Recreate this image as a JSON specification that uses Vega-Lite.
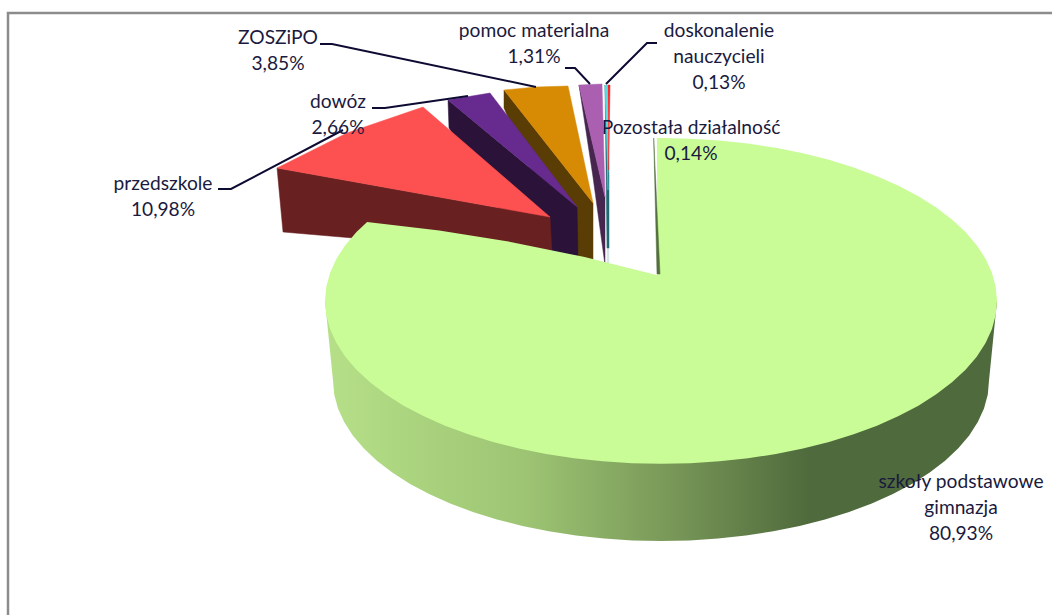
{"$schema":"https://vega.github.io/schema/vega-lite/v6.json","width":1052,"height":615,"padding":0,"autosize":"none","background":"white","config":{"view":{"stroke":null}},
"datasets":{
"big":[{"slice":"szkoły podstawowe gimnazja","share":80.93,"outline":{"type":"Polygon","coordinates":[[[-90,89.9],[-179.3,80],[180,80],[175,80],[170,80],[165,80],[160,80],[155,80],[150,80],[145,80],[140,80],[135,80],[130,80],[125,80],[120,80],[115,80],[110,80],[105,80],[100,80],[95,80],[90,80],[85,80],[80,80],[75,80],[70,80],[65,80],[60,80],[55,80],[50,80],[45,80],[40,80],[35,80],[30,80],[25,80],[20,80],[15,80],[10,80],[5,80],[0,80],[-5,80],[-10,80],[-15,80],[-20,80],[-25,80],[-30,80],[-35,80],[-40,80],[-45,80],[-50,80],[-55,80],[-60,80],[-65,80],[-70,80],[-75,80],[-80,80],[-85,80],[-90,80],[-95,80],[-100,80],[-105,80],[-110,80],[-115,80],[-119,80],[-90,89.9]]]}}],
"band":[{"seq":0,"x":325,"y":301},{"seq":1,"x":333,"y":380.5},{"seq":2,"x":334.2,"y":394.5},{"seq":3,"x":338,"y":408.4},{"seq":4,"x":344.2,"y":422},{"seq":5,"x":352.8,"y":435.4},{"seq":6,"x":363.7,"y":448.3},{"seq":7,"x":376.9,"y":460.8},{"seq":8,"x":392.3,"y":472.6},{"seq":9,"x":409.7,"y":483.7},{"seq":10,"x":429.1,"y":494},{"seq":11,"x":450.2,"y":503.4},{"seq":12,"x":472.9,"y":512},{"seq":13,"x":497,"y":519.5},{"seq":14,"x":522.4,"y":526},{"seq":15,"x":548.8,"y":531.3},{"seq":16,"x":576.1,"y":535.5},{"seq":17,"x":604.1,"y":538.6},{"seq":18,"x":632.4,"y":540.4},{"seq":19,"x":661,"y":541},{"seq":20,"x":689.6,"y":540.4},{"seq":21,"x":717.9,"y":538.6},{"seq":22,"x":745.9,"y":535.5},{"seq":23,"x":773.2,"y":531.3},{"seq":24,"x":799.6,"y":526},{"seq":25,"x":825,"y":519.5},{"seq":26,"x":849.1,"y":512},{"seq":27,"x":871.8,"y":503.4},{"seq":28,"x":892.9,"y":494},{"seq":29,"x":912.3,"y":483.7},{"seq":30,"x":929.7,"y":472.6},{"seq":31,"x":945.1,"y":460.8},{"seq":32,"x":958.3,"y":448.3},{"seq":33,"x":969.2,"y":435.4},{"seq":34,"x":977.8,"y":422},{"seq":35,"x":984,"y":408.4},{"seq":36,"x":987.8,"y":394.5},{"seq":37,"x":989,"y":380.5},{"seq":38,"x":997,"y":301}],
"faces":[
{"face":"pomoc wall","seq":1,"x":579,"y":85},{"face":"pomoc wall","seq":2,"x":605,"y":197},{"face":"pomoc wall","seq":3,"x":605,"y":265},{"face":"pomoc wall","seq":4,"x":593,"y":177},
{"face":"pomoc top","seq":1,"x":579,"y":85},{"face":"pomoc top","seq":2,"x":602,"y":84},{"face":"pomoc top","seq":3,"x":605,"y":197},
{"face":"rest wall","seq":1,"x":607,"y":245},{"face":"rest wall","seq":2,"x":609,"y":245},{"face":"rest wall","seq":3,"x":609,"y":265},{"face":"rest wall","seq":4,"x":607,"y":265},
{"face":"doskonalenie wall","seq":1,"x":605,"y":85},{"face":"doskonalenie wall","seq":2,"x":609,"y":175},{"face":"doskonalenie wall","seq":3,"x":609,"y":248},{"face":"doskonalenie wall","seq":4,"x":607,"y":248},
{"face":"doskonalenie top","seq":1,"x":605,"y":85},{"face":"doskonalenie top","seq":2,"x":607.5,"y":85},{"face":"doskonalenie top","seq":3,"x":608,"y":190},
{"face":"pozostala top","seq":1,"x":608,"y":85},{"face":"pozostala top","seq":2,"x":610,"y":85},{"face":"pozostala top","seq":3,"x":608.7,"y":170},
{"face":"zoszipo wall","seq":1,"x":504,"y":90},{"face":"zoszipo wall","seq":2,"x":593,"y":203},{"face":"zoszipo wall","seq":3,"x":593,"y":262},{"face":"zoszipo wall","seq":4,"x":570,"y":262},{"face":"zoszipo wall","seq":5,"x":504,"y":108},
{"face":"zoszipo top","seq":1,"x":504,"y":90},{"face":"zoszipo top","seq":2,"x":536,"y":87},{"face":"zoszipo top","seq":3,"x":568,"y":86},{"face":"zoszipo top","seq":4,"x":593,"y":203},
{"face":"dowoz wall","seq":1,"x":448,"y":100},{"face":"dowoz wall","seq":2,"x":577,"y":207},{"face":"dowoz wall","seq":3,"x":578,"y":259},{"face":"dowoz wall","seq":4,"x":530,"y":259},{"face":"dowoz wall","seq":5,"x":449,"y":128},
{"face":"dowoz top","seq":1,"x":448,"y":100},{"face":"dowoz top","seq":2,"x":490,"y":93},{"face":"dowoz top","seq":3,"x":577,"y":207},
{"face":"przedszkole wall","seq":1,"x":277,"y":168},{"face":"przedszkole wall","seq":2,"x":550,"y":217},{"face":"przedszkole wall","seq":3,"x":552,"y":255},{"face":"przedszkole wall","seq":4,"x":283,"y":232},
{"face":"przedszkole top","seq":1,"x":277,"y":168},{"face":"przedszkole top","seq":2,"x":347,"y":133},{"face":"przedszkole top","seq":3,"x":423,"y":107},{"face":"przedszkole top","seq":4,"x":550,"y":217}
],
"cut":[{"seq":1,"x":653.7,"y":138},{"seq":2,"x":660,"y":274},{"seq":3,"x":657,"y":274}],
"guides":[
{"guide":"frame","seq":1,"x":8,"y":615},{"guide":"frame","seq":2,"x":8,"y":13},{"guide":"frame","seq":3,"x":1052,"y":13},
{"guide":"przedszkole","seq":1,"x":218,"y":189},{"guide":"przedszkole","seq":2,"x":231,"y":189},{"guide":"przedszkole","seq":3,"x":343,"y":130},
{"guide":"dowoz","seq":1,"x":372,"y":108},{"guide":"dowoz","seq":2,"x":385,"y":108},{"guide":"dowoz","seq":3,"x":468,"y":96},
{"guide":"zoszipo","seq":1,"x":320,"y":44},{"guide":"zoszipo","seq":2,"x":332,"y":44},{"guide":"zoszipo","seq":3,"x":536,"y":87},
{"guide":"pomoc","seq":1,"x":565,"y":68},{"guide":"pomoc","seq":2,"x":575,"y":68},{"guide":"pomoc","seq":3,"x":590,"y":84},
{"guide":"doskonalenie","seq":1,"x":657,"y":43},{"guide":"doskonalenie","seq":2,"x":647,"y":43},{"guide":"doskonalenie","seq":3,"x":606,"y":84}
],
"labels":[
{"label":"szkoły podstawowe\ngimnazja\n80,93%","x":961,"y":482},
{"label":"przedszkole\n10,98%","x":163,"y":184},
{"label":"dowóz\n2,66%","x":338,"y":102},
{"label":"ZOSZiPO\n3,85%","x":278,"y":38},
{"label":"pomoc materialna\n1,31%","x":534,"y":31},
{"label":"doskonalenie\nnauczycieli\n0,13%","x":719,"y":31},
{"label":"Pozostała działalność\n0,14%","x":691,"y":128}
]},
"layer":[
{"data":{"name":"guides"},"transform":[{"filter":"datum.guide==='frame'"}],"mark":{"type":"line","stroke":"#8c8c8c","strokeWidth":2.5},"encoding":{"x":{"field":"x","type":"quantitative","scale":{"domain":[0,1052],"nice":false,"zero":false},"axis":null},"y":{"field":"y","type":"quantitative","scale":{"domain":[615,0],"nice":false,"zero":false},"axis":null},"order":{"field":"seq"}}},
{"data":{"name":"faces"},"mark":{"type":"line","strokeWidth":0.5,"interpolate":"linear-closed"},"encoding":{"x":{"field":"x","type":"quantitative","scale":{"domain":[0,1052],"nice":false,"zero":false},"axis":null},"y":{"field":"y","type":"quantitative","scale":{"domain":[615,0],"nice":false,"zero":false},"axis":null},"order":{"field":"seq"},
"fill":{"field":"face","type":"nominal","legend":null,"sort":null,"scale":{"domain":["pomoc wall","pomoc top","rest wall","doskonalenie wall","doskonalenie top","pozostala top","zoszipo wall","zoszipo top","dowoz wall","dowoz top","przedszkole wall","przedszkole top"],"range":["#46264e","#aa5fb0","#d5e5e5","#1f6a70","#55dde3","#fb2020","#5a3c05","#d78b05","#2a1238","#672a8e","#682020","#fd5050"]}},
"stroke":{"field":"face","type":"nominal","legend":null,"sort":null,"scale":{"domain":["pomoc wall","pomoc top","rest wall","doskonalenie wall","doskonalenie top","pozostala top","zoszipo wall","zoszipo top","dowoz wall","dowoz top","przedszkole wall","przedszkole top"],"range":["#46264e","#aa5fb0","#d5e5e5","#1f6a70","#55dde3","#fb2020","#5a3c05","#d78b05","#2a1238","#672a8e","#682020","#fd5050"]}}}},
{"data":{"name":"guides"},"transform":[{"filter":"datum.guide!=='frame'"}],"mark":{"type":"line","stroke":"#0e0b33","strokeWidth":2},"encoding":{"x":{"field":"x","type":"quantitative","scale":{"domain":[0,1052],"nice":false,"zero":false},"axis":null},"y":{"field":"y","type":"quantitative","scale":{"domain":[615,0],"nice":false,"zero":false},"axis":null},"order":{"field":"seq"},"detail":{"field":"guide"}}},
{"data":{"name":"band"},"mark":{"type":"line","strokeWidth":0,"interpolate":"linear-closed","fill":{"gradient":"linear","x1":0,"x2":1,"y1":0,"y2":0,"stops":[{"offset":0,"color":"#b6e088"},{"offset":0.3,"color":"#9dc473"},{"offset":0.5,"color":"#7b9b5a"},{"offset":0.72,"color":"#4f6a3c"},{"offset":1,"color":"#4f6a3c"}]}},"encoding":{"x":{"field":"x","type":"quantitative","scale":{"domain":[0,1052],"nice":false,"zero":false},"axis":null},"y":{"field":"y","type":"quantitative","scale":{"domain":[615,0],"nice":false,"zero":false},"axis":null},"order":{"field":"seq"}}},
{"data":{"name":"big"},"projection":{"type":"orthographic","rotate":[0,-29,0],"scale":1935,"translate":[661,1967.6]},"mark":{"type":"geoshape","stroke":null,"fill":"#c9fc97"},"encoding":{"shape":{"field":"outline","type":"geojson"}}},
{"data":{"name":"cut"},"mark":{"type":"line","strokeWidth":0.5,"stroke":"#55703f","fill":"#55703f","interpolate":"linear-closed"},"encoding":{"x":{"field":"x","type":"quantitative","scale":{"domain":[0,1052],"nice":false,"zero":false},"axis":null},"y":{"field":"y","type":"quantitative","scale":{"domain":[615,0],"nice":false,"zero":false},"axis":null},"order":{"field":"seq"}}},
{"data":{"name":"labels"},"mark":{"type":"text","font":"Lato","fontSize":19.2,"lineHeight":26,"lineBreak":"\n","align":"center","baseline":"middle","fill":"#1a1a3e"},"encoding":{"x":{"field":"x","type":"quantitative","scale":{"domain":[0,1052],"nice":false,"zero":false},"axis":null},"y":{"field":"y","type":"quantitative","scale":{"domain":[615,0],"nice":false,"zero":false},"axis":null},"text":{"field":"label"}}}
]}
